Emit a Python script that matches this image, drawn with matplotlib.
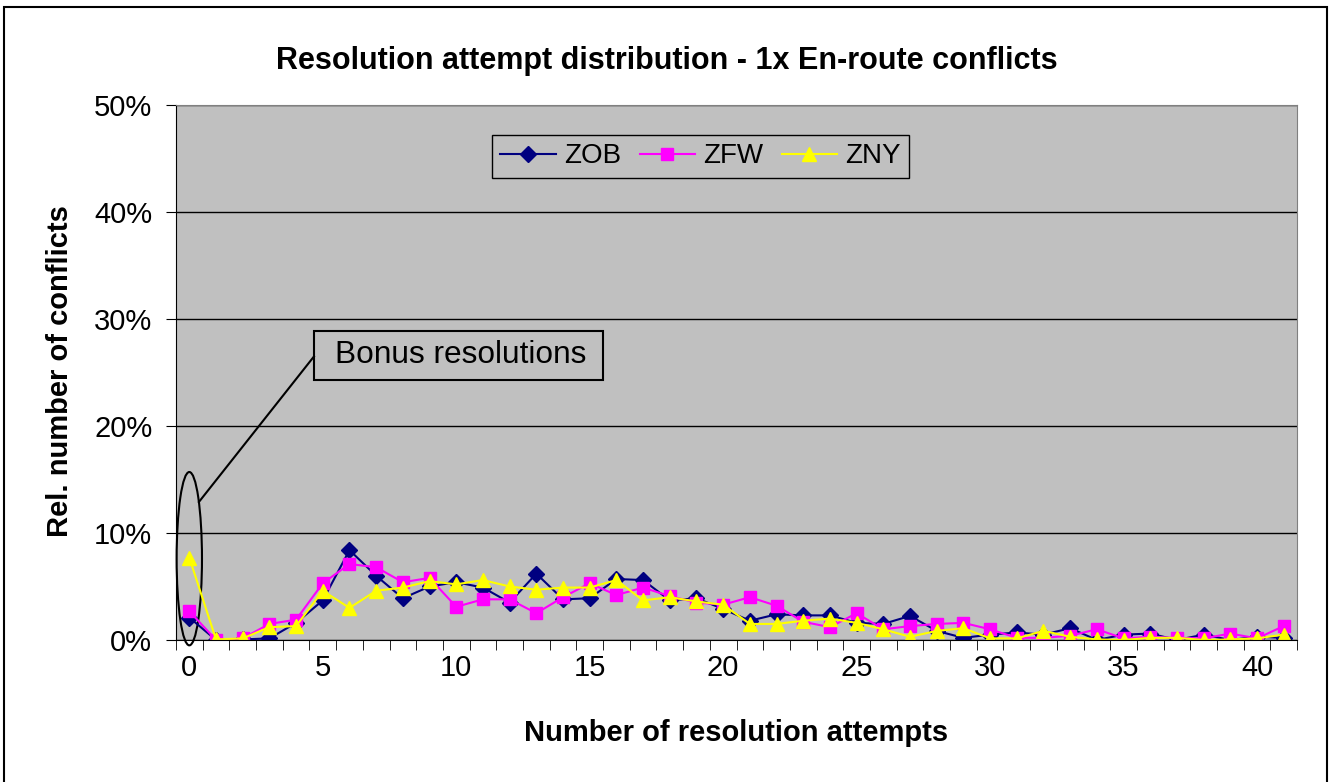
import matplotlib.pyplot as plt
from matplotlib.patches import Ellipse, Rectangle
import numpy as np

plt.rcParams['font.family'] = ['Liberation Sans', 'DejaVu Sans']

# number of resolution attempts (categories 0..41)
attempts = list(range(42))

# relative number of conflicts in %
zob = [2.1, 0.0, 0.05, 0.15, 1.6, 3.7, 8.4, 6.0, 3.9, 5.0, 5.4, 4.9, 3.5, 6.2, 3.8,
       3.9, 5.7, 5.6, 3.7, 3.9, 2.9, 1.8, 2.4, 2.3, 2.3, 1.6, 1.5, 2.25, 0.85, 0.2,
       0.5, 0.7, 0.5, 1.1, 0.0, 0.5, 0.6, 0.0, 0.5, 0.0, 0.3, 0.2]
zfw = [2.7, 0.0, 0.15, 1.5, 1.9, 5.3, 7.1, 6.8, 5.4, 5.8, 3.1, 3.8, 3.8, 2.5, 4.0,
       5.3, 4.2, 4.9, 4.1, 3.5, 3.3, 4.0, 3.2, 1.7, 1.2, 2.5, 1.0, 1.3, 1.5, 1.6,
       1.0, 0.2, 0.2, 0.4, 1.0, 0.15, 0.3, 0.2, 0.15, 0.6, 0.15, 1.3]
zny = [7.7, 0.05, 0.15, 1.2, 1.3, 4.6, 3.0, 4.6, 4.9, 5.5, 5.2, 5.6, 5.0, 4.7, 4.9,
       4.9, 5.6, 3.7, 4.0, 3.6, 3.3, 1.5, 1.5, 1.8, 2.0, 1.6, 1.0, 0.3, 0.85, 1.1,
       0.15, 0.15, 0.85, 0.3, 0.05, 0.0, 0.2, 0.2, 0.0, 0.05, 0.15, 0.5]

fig = plt.figure(figsize=(13.31, 7.82), dpi=100)
ax = fig.add_axes([0.1322, 0.1816, 0.8423, 0.6841])
ax.set_facecolor('#C0C0C0')

# outer chart frame
fig.patches.append(Rectangle((0.003, -0.01), 0.994, 1.001, transform=fig.transFigure,
                             fill=False, edgecolor='black', linewidth=1.5))

ax.plot(attempts, zob, color='#000080', marker='D', markersize=8, linewidth=1.5, label='ZOB')
ax.plot(attempts, zfw, color='#FF00FF', marker='s', markersize=8.5, linewidth=1.5, label='ZFW')
ax.plot(attempts, zny, color='#FFFF00', marker='^', markersize=10.5, linewidth=1.5, label='ZNY')

ax.set_xlim(-0.5, 41.5)
ax.set_ylim(0, 50)
ax.set_yticks(range(0, 51, 10))
ax.set_yticklabels([f'{v}%' for v in range(0, 51, 10)])
ax.set_xticks(range(0, 41, 5))
ax.set_xticks(np.arange(-0.5, 42, 1), minor=True)
ax.tick_params(axis='x', which='major', length=0, labelsize=21, pad=10)
ax.tick_params(axis='x', which='minor', length=7, direction='out')
ax.tick_params(axis='y', length=7, direction='out', labelsize=21, pad=10)
ax.yaxis.grid(True, color='black', linewidth=1)
ax.set_axisbelow(True)
for s in ['top', 'right']:
    ax.spines[s].set_color('#808080')
ax.spines['left'].set_color('black')
ax.spines['bottom'].set_color('black')

fig.text(0.501, 1 - 61 / 782, 'Resolution attempt distribution - 1x En-route conflicts',
         fontsize=22, fontweight='bold', ha='center', va='center')
ax.set_xlabel('Number of resolution attempts', fontsize=21, fontweight='bold', va='center')
ax.xaxis.set_label_coords(0.5, -0.174)
ax.set_ylabel('Rel. number of conflicts', fontsize=21, fontweight='bold', va='center')
ax.yaxis.set_label_coords(-0.1035, 0.502)

leg = ax.legend(loc='upper left', bbox_to_anchor=(0.282, 0.944), ncol=3, fontsize=20,
                frameon=True, fancybox=False, handlelength=2.0, columnspacing=0.65,
                handletextpad=0.3, borderpad=0.3, borderaxespad=0)
leg.get_frame().set_facecolor('#C0C0C0')
leg.get_frame().set_edgecolor('black')
leg.get_frame().set_alpha(1)

# callout
ax.add_patch(Ellipse((0, 7.6), 0.95, 16.2, fill=False, edgecolor='black',
                     linewidth=1.5, clip_on=False))
ax.plot([0.36, 4.67], [12.9, 26.5], color='black', linewidth=1.5)
ax.add_patch(Rectangle((4.67, 24.3), 10.82, 4.6, fill=False, edgecolor='black', linewidth=1.5))
ax.text(10.15, 26.6, 'Bonus resolutions', fontsize=22.8, ha='center', va='center')

fig.savefig('out.png', dpi=100)
